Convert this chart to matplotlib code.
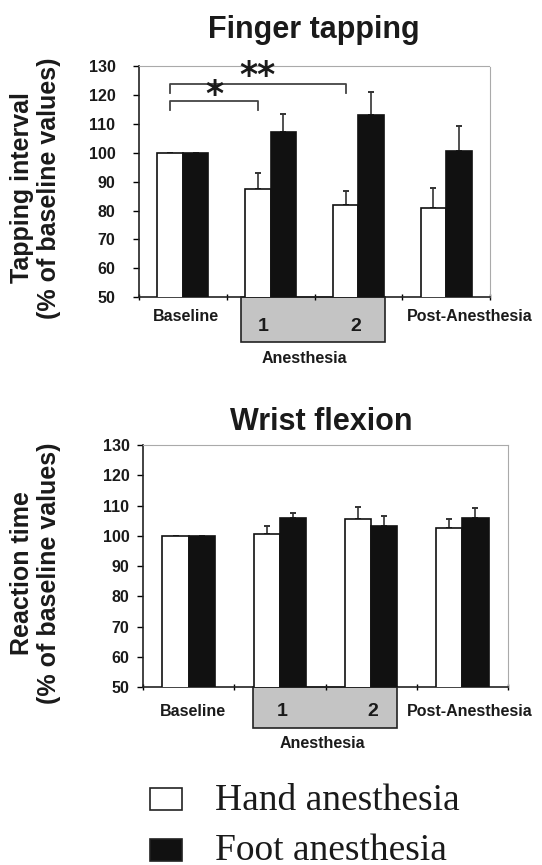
import numpy as np
import matplotlib
matplotlib.use("Agg")
import matplotlib.pyplot as plt
import matplotlib.transforms as mtransforms
from matplotlib.patches import Rectangle

plt.rcParams['font.family'] = ['Liberation Sans', 'DejaVu Sans']
plt.rcParams['font.weight'] = 'bold'

# data
conditions = ['Baseline', 'Anesthesia 1', 'Anesthesia 2', 'Post-Anesthesia']

tap_hand = [100, 87.3, 81.9, 80.8]
tap_hand_err = [0, 5.6, 5.0, 7.1]
tap_foot = [100, 107.0, 113.1, 100.7]
tap_foot_err = [0, 6.3, 7.8, 8.7]

wrist_hand = [100, 100.7, 105.7, 102.7]
wrist_hand_err = [0, 2.7, 3.9, 2.9]
wrist_foot = [100, 105.9, 103.4, 105.8]
wrist_foot_err = [0, 1.5, 3.2, 3.4]

y_ticks = [50, 60, 70, 80, 90, 100, 110, 120, 130]

W, H = 542, 865
TXT = '#1a1a1a'
BAR_W = 0.29


def draw_panel(ax, hand, hand_err, foot, foot_err, pad, lab):
    x = np.arange(len(conditions))
    ax.bar(x - BAR_W / 2, hand, BAR_W, color='white',
           edgecolor='#111111', linewidth=1.2, zorder=3)
    ax.bar(x + BAR_W / 2, foot, BAR_W, color='#111111',
           edgecolor='#111111', linewidth=1.2, zorder=3)
    ax.errorbar(x - BAR_W / 2, hand, yerr=[np.zeros(4), hand_err], fmt='none',
                ecolor='#333333', elinewidth=1.2, capsize=2.5, capthick=1.4, zorder=2)
    ax.errorbar(x + BAR_W / 2, foot, yerr=[np.zeros(4), foot_err], fmt='none',
                ecolor='#333333', elinewidth=1.2, capsize=2.5, capthick=1.4, zorder=2)

    ax.set_xlim(-0.5, 3.5)
    ax.set_ylim(50, 130)
    ax.set_yticks(y_ticks)
    ax.tick_params(axis='y', direction='out', length=4, width=1, pad=pad,
                   labelsize=11.5, labelcolor=TXT)
    ax.set_xticks([-0.5, 0.5, 1.5, 2.5, 3.5])
    ax.set_xticklabels([])
    ax.tick_params(axis='x', direction='inout', length=5, width=1)
    for s in ['top', 'right']:
        ax.spines[s].set_color('#aaaaaa')
        ax.spines[s].set_linestyle((0, (3, 1)))
        ax.spines[s].set_linewidth(0.8)
    for s in ['left', 'bottom']:
        ax.spines[s].set_color('#222222')
        ax.spines[s].set_linewidth(1.2)

    # Anesthesia box under the axis
    trans = mtransforms.blended_transform_factory(ax.transData, ax.transAxes)
    x0, x1 = lab['box']
    ax.add_patch(Rectangle((x0, -lab['box_h']), x1 - x0, lab['box_h'],
                           transform=trans, clip_on=False, facecolor='#c4c4c4',
                           edgecolor='#222222', linewidth=1.2))
    ax.text(lab['base_x'], lab['y'], 'Baseline', transform=trans, ha='center',
            va='center', fontsize=11.5, color=TXT)
    ax.text(lab['post_x'], lab['y'], 'Post-Anesthesia', transform=trans, ha='left',
            va='center', fontsize=11.5, color=TXT)
    ax.text(lab['one_x'], lab['num_y'], '1', transform=trans, ha='center',
            va='center', fontsize=14, color=TXT)
    ax.text(lab['two_x'], lab['num_y'], '2', transform=trans, ha='center',
            va='center', fontsize=14, color=TXT)
    ax.text(lab['an_x'], lab['an_y'], 'Anesthesia', transform=trans, ha='center',
            va='center', fontsize=11.5, color=TXT)


fig = plt.figure(figsize=(W / 100, H / 100), dpi=100)

# Finger tapping
ax1 = fig.add_axes([139 / W, 1 - 297.3 / H, 351 / W, 231.3 / H])
draw_panel(ax1, tap_hand, tap_hand_err, tap_foot, tap_foot_err, 13,
           dict(box=(0.66, 2.30), box_h=0.193, base_x=0.03, post_x=2.55, y=-0.084,
                one_x=0.92, two_x=1.97, num_y=-0.127, an_x=1.38, an_y=-0.264))

# significance brackets
hx = np.arange(4) - BAR_W / 2
br_col = '#444444'
ax1.plot([hx[0], hx[0], hx[1], hx[1]], [114.8, 117.9, 117.9, 114.8],
         color=br_col, lw=1.3, clip_on=False)
ax1.plot([hx[0], hx[0], hx[2], hx[2]], [120.5, 123.8, 123.8, 120.5],
         color=br_col, lw=1.3, clip_on=False)
ax1.text((hx[0] + hx[1]) / 2, 119.8, '*', ha='center', va='center',
         fontsize=25, color=TXT, family='DejaVu Sans')
ax1.text((hx[0] + hx[2]) / 2, 126.4, '**', ha='center', va='center',
         fontsize=25, color=TXT, family='DejaVu Sans')

# Wrist flexion
ax2 = fig.add_axes([143.3 / W, 1 - 687.3 / H, 364.4 / W, 242.3 / H])
draw_panel(ax2, wrist_hand, wrist_hand_err, wrist_foot, wrist_foot_err, 6,
           dict(box=(0.70, 2.28), box_h=0.169, base_x=0.04, post_x=2.39, y=-0.10,
                one_x=1.03, two_x=2.02, num_y=-0.10, an_x=1.47, an_y=-0.231))

# titles
fig.text(314 / W, 1 - 38.3 / H, 'Finger tapping', ha='center', va='baseline',
         fontsize=22, color=TXT)
fig.text(321 / W, 1 - 430 / H, 'Wrist flexion', ha='center', va='baseline',
         fontsize=22, color=TXT)

# y labels
for yc, l1 in [(188, 'Tapping interval'), (573, 'Reaction time')]:
    fig.text(22 / W, 1 - yc / H, l1, rotation=90, ha='center', va='center',
             fontsize=18, color=TXT)
    fig.text(49 / W, 1 - yc / H, '(% of baseline values)', rotation=90,
             ha='center', va='center', fontsize=18, color=TXT)

# legend
for (top, fc, label) in [(788, 'white', 'Hand anesthesia'),
                         (839, '#111111', 'Foot anesthesia')]:
    fig.add_artist(Rectangle((150 / W, 1 - (top + 22) / H), 31.7 / W, 22 / H,
                             transform=fig.transFigure, facecolor=fc,
                             edgecolor='#222222', linewidth=1.2))
    fig.text(215 / W, 1 - (top + 21.5) / H, label, ha='left', va='baseline',
             fontsize=27, fontweight='normal', family='Liberation Serif', color=TXT)

fig.savefig('out.png', dpi=100)
